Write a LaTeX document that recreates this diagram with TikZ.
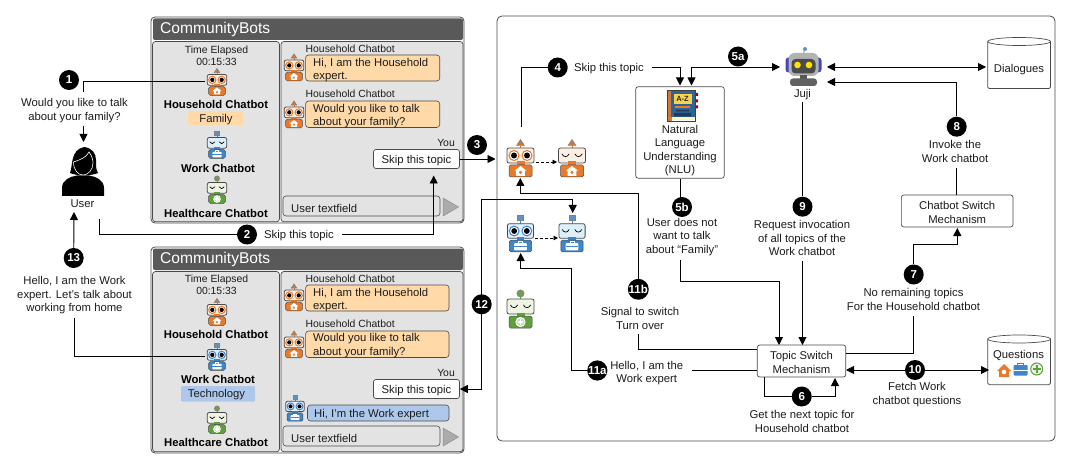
\documentclass[tikz,border=0pt]{standalone}
\usepackage{fontspec}
\setmainfont{Liberation Sans}
\usetikzlibrary{arrows.meta}
\pgfdeclarelayer{top}
\pgfsetlayers{main,top}
\definecolor{hmain}{HTML}{E9792B}
\definecolor{htint}{HTML}{FBEFE4}
\definecolor{hanten}{HTML}{C9793F}
\definecolor{wmain}{HTML}{3F86C8}
\definecolor{wtint}{HTML}{DCEFFB}
\definecolor{wanten}{HTML}{5F93C4}
\definecolor{gmain}{HTML}{5FA03C}
\definecolor{gtint}{HTML}{EEF3E4}
\definecolor{ganten}{HTML}{6F9F4A}
\definecolor{edgec}{HTML}{4A4A4A}
\definecolor{panelc}{HTML}{E3E3E3}
\definecolor{headc}{HTML}{595959}
\definecolor{peach}{HTML}{FFD9A8}
\definecolor{sky}{HTML}{AEC8EC}
\definecolor{ink}{HTML}{1C1C1C}
\tikzset{
  txt/.style={inner sep=0pt,yshift=-1.5pt,text=ink,font=\fontsize{11.3}{13.5}\selectfont,align=center},
  smalltxt/.style={inner sep=0pt,yshift=-1.2pt,text=ink,font=\fontsize{10.4}{11.3}\selectfont,align=center},
  boldtxt/.style={inner sep=0pt,yshift=-0.8pt,text=black,font=\bfseries\fontsize{11.3}{13.5}\selectfont,align=center},
  badge/.style={circle,fill=black,text=white,inner sep=0pt,minimum size=20pt,font=\bfseries\fontsize{11.5}{12}\selectfont},
  titlebar/.style={inner sep=0pt,yshift=-0.8pt,text=white,font=\fontsize{15.6}{18}\selectfont,anchor=west},
  plainline/.style={draw=black,line width=0.9pt},
  arrowline/.style={draw=black,line width=0.9pt,-{Triangle[length=8pt,width=8pt]}},
  bothline/.style={draw=black,line width=0.9pt,{Triangle[length=8pt,width=8pt]}-{Triangle[length=8pt,width=8pt]}},
  dashline/.style={draw=black,line width=0.7pt,densely dashed,-{Triangle[length=4.5pt,width=4.5pt]}},
  procbox/.style={draw=edgec,line width=0.7pt,rounded corners=2.5pt,fill=white,inner sep=0pt},
  frame/.style={draw=edgec,line width=0.8pt,rounded corners=4pt},
  sub/.style={draw=edgec,line width=0.7pt,rounded corners=3pt,fill=panelc},
  bubble/.style={draw=edgec,line width=0.6pt,rounded corners=3pt},
}
% eyes
\newcommand{\eyesopen}[1]{%
  \foreach \ex in {-6.5,6.5}{%
    \draw[draw=#1,fill=white,line width=1pt] (\ex,16.5) circle[radius=5];
    \fill[black] (\ex,16.5) circle[radius=3];}}
\newcommand{\eyesshut}[1]{%
  \foreach \ex in {-6.5,6.5}{%
    \draw[black,line width=0.7pt,line cap=round] (\ex-3.5,15) .. controls (\ex-2,18.5) and (\ex+2,18.5) .. (\ex+3.5,15);}}
% robot frame
\newcommand{\robotframe}[9]{% name,x,top,scale,main,tint,antenna,icon,eyes
  \node[minimum width=34*#4,minimum height=38*#4,inner sep=0pt] (#1) at (#2,#3+19*#4) {};
  \begin{scope}[shift={(#2,#3)},scale=#4]
    \draw[#5,line width=1pt] (0,3) -- (0,9);
    #7
    \draw[edgec,fill=#6,line width=0.8pt,rounded corners=2pt] (-13.5,9) rectangle (13.5,24);
    #9{#5}
    \fill[#5] (-4,22.5) rectangle (4,26.5);
    \draw[edgec,fill=#5,line width=0.5pt,rounded corners=1.5pt] (-11.5,26) rectangle (11.5,38);
    \begin{scope}[shift={(0,32)}]#8{#5}\end{scope}
  \end{scope}}
\newcommand{\anthouse}{\draw[gray,fill=hanten,line width=0.5pt] (-4,6.5) -- (0,0.5) -- (4,6.5) -- cycle;}
\newcommand{\antwork}{\draw[gray,fill=wanten,line width=0.7pt] (-3,0.5) rectangle (3,6);}
\newcommand{\anthealth}{\draw[gray,fill=ganten,line width=0.7pt] (0,3.5) circle[radius=3.5];}
\newcommand{\ichouse}[1]{\fill[white] (-6,-0.3) -- (0,-5) -- (6,-0.3) -- (4.3,-0.3) -- (4.3,4.8) -- (-4.3,4.8) -- (-4.3,-0.3) -- cycle;
  \fill[#1] (0,1.4) circle[radius=1.7];}
\newcommand{\icwork}[1]{\draw[white,line width=0.7pt] (-2,-3) rectangle (2,-4.5);
  \fill[white,rounded corners=0.8pt] (-6.5,-3) rectangle (6.5,4.5);
  \draw[#1,line width=0.5pt] (-6.5,0.3) -- (6.5,0.3);}
\newcommand{\ichealth}[1]{\draw[white,line width=0.9pt,fill=#1!35] (0,0) circle[radius=4.6];
  \draw[white,line width=1.5pt] (-2.8,0) -- (2.8,0) (0,-2.8) -- (0,2.8);}
\newcommand{\housebot}[5]{\robotframe{#1}{#2}{#3}{#4}{hmain}{htint}{\anthouse}{\ichouse}{#5}}
\newcommand{\workbot}[5]{\robotframe{#1}{#2}{#3}{#4}{wmain}{wtint}{\antwork}{\icwork}{#5}}
\newcommand{\healthbot}[5]{\robotframe{#1}{#2}{#3}{#4}{gmain}{gtint}{\anthealth}{\ichealth}{#5}}
% one gui window shell
\newcommand{\windowshell}[3]{% prefix, top, bottom
  \draw[frame,fill=white] (151,#2) rectangle (464,#3);
  \fill[headc,rounded corners=2pt] (153,#2+1.5) rectangle (463,#2+23);
  \node[titlebar] (#1title) at (160,#2+12) {CommunityBots};
  \draw[sub] (152.5,#2+24.5) rectangle (279.5,#3-1.2);
  \draw[sub] (281,#2+24.5) rectangle (463,#3-1.2);}
\begin{document}
\begin{tikzpicture}[x=1pt,y=-1pt]
\useasboundingbox[fill=white] (0,0) rectangle (1069,468);

%% ---------- top window
\windowshell{a}{17}{223}
\node[smalltxt] (atime) at (216.5,54.5) {Time Elapsed\\00:15:33};
\housebot{abot1}{217}{68}{0.72}{\eyesopen}
\node[boldtxt] (aname1) at (216,104) {Household Chatbot};
\fill[peach] (188,111) rectangle (243,125.5);
\node[txt] (afamily) at (216,118.5) {Family};
\workbot{abot2}{217}{131}{0.72}{\eyesshut}
\node[boldtxt] (aname2) at (218,168) {Work Chatbot};
\healthbot{abot3}{217}{176}{0.72}{\eyesshut}
\node[boldtxt] (aname3) at (216,213) {Healthcare Chatbot};

\node[smalltxt,anchor=west] (al1) at (305.5,48) {Household Chatbot};
\housebot{achat1}{294}{53.5}{0.72}{\eyesopen}
\draw[bubble,fill=peach] (305.6,55) rectangle (439.7,81);
\node[txt,anchor=west] (am1) at (313,68.5) {\parbox{125pt}{Hi, I am the Household\\expert.}};
\node[smalltxt,anchor=west] (al2) at (305.5,93) {Household Chatbot};
\housebot{achat2}{294}{100.5}{0.72}{\eyesopen}
\draw[bubble,fill=peach] (305.6,101) rectangle (439.7,127.5);
\node[txt,anchor=west] (am2) at (313,114.5) {\parbox{125pt}{Would you like to talk\\about your family?}};
\node[smalltxt,anchor=east] (ayou) at (455,142) {You};
\node[procbox,minimum width=86pt,minimum height=19pt] (askip) at (416.5,159) {};
\node[txt] (askipt) at (416.5,159) {Skip this topic};
\draw[bubble,fill=panelc] (283,196) rectangle (440,216);
\node[txt,anchor=west] (afield) at (291,206.5) {User textfield};
\draw[fill=black!33,draw=black!45,line width=0.5pt] (443,198) -- (458.5,207) -- (443,216) -- cycle;

%% ---------- bottom window
\windowshell{b}{247}{453}
\node[smalltxt] (btime) at (216.5,283.5) {Time Elapsed\\00:15:33};
\housebot{bbot1}{217}{298}{0.72}{\eyesopen}
\node[boldtxt] (bname1) at (216,333.5) {Household Chatbot};
\workbot{bbot2}{217}{343}{0.72}{\eyesopen}
\node[boldtxt] (bname2) at (218,379) {Work Chatbot};
\fill[sky,rounded corners=1pt] (181,386) rectangle (255,401.5);
\node[txt] (btech) at (216.5,393.5) {Technology};
\healthbot{bbot3}{217}{406}{0.72}{\eyesshut}
\node[boldtxt] (bname3) at (216,442) {Healthcare Chatbot};

\node[smalltxt,anchor=west] (bl1) at (305.5,278) {Household Chatbot};
\housebot{bchat1}{294}{283.5}{0.72}{\eyesopen}
\draw[bubble,fill=peach] (305.6,285) rectangle (449,311);
\node[txt,anchor=west] (bm1) at (313,298.5) {\parbox{125pt}{Hi, I am the Household\\expert.}};
\node[smalltxt,anchor=west] (bl2) at (305.5,323) {Household Chatbot};
\housebot{bchat2}{294}{330.5}{0.72}{\eyesopen}
\draw[bubble,fill=peach] (305.6,331) rectangle (449,357.5);
\node[txt,anchor=west] (bm2) at (313,344) {\parbox{125pt}{Would you like to talk\\about your family?}};
\node[smalltxt,anchor=east] (byou) at (455,371.5) {You};
\node[procbox,minimum width=86pt,minimum height=19pt] (bskip) at (416.5,389) {};
\node[txt] (bskipt) at (416.5,389) {Skip this topic};
\workbot{bchat3}{295}{395}{0.69}{\eyesopen}
\draw[bubble,fill=sky] (307.5,405) rectangle (449,421);
\node[txt,anchor=west] (bm3) at (314,413) {Hi, I’m the Work expert};
\draw[bubble,fill=panelc] (283,426) rectangle (440,446);
\node[txt,anchor=west] (bfield) at (291,436.5) {User textfield};
\draw[fill=black!33,draw=black!45,line width=0.5pt] (443,428) -- (458.5,437) -- (443,446) -- cycle;

%% ---------- user side
\node[minimum width=42pt,minimum height=49pt,inner sep=0pt] (user) at (83,171.5) {};
\fill[black] (62,196) -- (62,188) .. controls (62,180) and (70,176.5) .. (77,175.5) -- (89,175.5) .. controls (96,176.5) and (104,180) .. (104,188) -- (104,196) -- cycle;
\fill[black] (70,173) .. controls (73,166) and (70,150) .. (84,147) .. controls (92,148) and (96,153) .. (96,160) .. controls (96,166) and (96,170) .. (98,173) .. controls (92,176) and (76,176) .. (70,173) -- cycle;
\draw[white,line width=0.6pt] (73.5,162) .. controls (80,160) and (87,157) .. (89,152) .. controls (92,156) and (93,160) .. (93,163) .. controls (93,170) and (88,175) .. (83,175) .. controls (78,175) and (73.5,170) .. (73.5,162) -- cycle;
\node[txt] (userlab) at (82.5,202.5) {User};
\node[txt] (q1) at (74.5,109) {Would you like to talk\\about your family?};
\node[txt] (q13) at (74.5,294) {Hello, I am the Work\\expert. Let’s talk about\\working from home};
\node[txt] (t2) at (299,234) {Skip this topic};

%% ---------- main frame
\draw[frame,rounded corners=5pt,fill=white] (497,16) rectangle (1055,441);
\housebot{hon}{520.5}{139}{1}{\eyesopen}
\housebot{hoff}{572}{139}{1}{\eyesshut}
\workbot{won}{520.5}{215}{0.97}{\eyesopen}
\workbot{woff}{572}{215}{0.97}{\eyesshut}
\healthbot{gon}{520.5}{290}{1}{\eyesshut}

% NLU
\node[procbox,minimum width=88.5pt,minimum height=91.5pt] (nlu) at (680,132.5) {};
\begin{scope}
  \fill[hanten] (667,91) rectangle (672,118);
  \fill[red!65!black] (695,93) rectangle (698,96) (695,99.5) rectangle (698,102.5) (695,105.5) rectangle (698,108.5);
  \fill[wmain!75!black] (670.5,90.7) rectangle (695,117);
  \fill[yellow!55!orange!70!white] (673.5,94) rectangle (691.5,104);
  \fill[black!10!yellow!25!white] (670.5,117) rectangle (695,120.5);
  \fill[hmain!60!brown] (667,117) rectangle (672,121);
  \draw[black!75,line width=0.5pt] (667,90.7) rectangle (695,120.8);
  \node[inner sep=0pt,text=black!85,font=\bfseries\fontsize{7.5}{8}\selectfont] (azlab) at (682.5,99) {A-Z};
  \fill[hmain] (675,106) rectangle (690,108);
  \fill[wmain!45!black] (676,110) rectangle (689,111.5) (674,113) rectangle (691,116.5);
\end{scope}
\node[txt] (nlut) at (680,149) {Natural\\Language\\Understanding\\(NLU)};

% Juji
\node[minimum width=36pt,minimum height=38pt,inner sep=0pt] (juji) at (803,66.5) {};
\draw[wanten,line width=0.8pt] (804.5,49) -- (803.5,54);
\fill[wanten] (805,49) circle[radius=2];
\fill[blue!45!gray,rounded corners=3pt] (785.5,57.5) rectangle (792,72.5);
\fill[blue!45!gray,rounded corners=3pt] (815,57.5) rectangle (821.5,72.5);
\fill[black!30,rounded corners=6pt] (788.5,53) rectangle (818.5,76);
\fill[black!70,rounded corners=4pt] (791.5,59) rectangle (815.5,73.5);
\fill[yellow!85!orange] (797.5,65) circle[radius=3.3] (809,65) circle[radius=3.3];
\fill[black!65] (800,75) rectangle (807,79);
\fill[black!62,rounded corners=3pt] (790,78.5) rectangle (817,86);
\node[txt] (jujit) at (802.5,93) {Juji};

% Cylinders
\node[inner sep=0pt,minimum width=63pt,minimum height=51pt] (dial) at (1019,63) {};
\draw[edgec,fill=white,line width=0.7pt,rounded corners=1.5pt] (987.7,41.5) -- (987.7,88.5) -- (1050.5,88.5) -- (1050.5,41.5);
\draw[edgec,fill=white,line width=0.7pt] (1019.1,41.5) ellipse[x radius=31.4,y radius=4];
\node[txt] (dialt) at (1019,68) {Dialogues};
\node[inner sep=0pt,minimum width=63pt,minimum height=50pt] (ques) at (1019,360) {};
\draw[edgec,fill=white,line width=0.7pt,rounded corners=1.5pt] (987.7,339) -- (987.7,384.7) -- (1050.5,384.7) -- (1050.5,339);
\draw[edgec,fill=white,line width=0.7pt] (1019.1,339) ellipse[x radius=31.4,y radius=4];
\node[txt] (quest) at (1018.5,354) {Questions};
\begin{scope}[shift={(1004,371)}]
  \fill[hmain] (-7,0) -- (0,-7) -- (7,0) -- (5,0) -- (5,6) -- (-5,6) -- (-5,0) -- cycle;
  \fill[white] (0,1) circle[radius=2.3];
\end{scope}
\begin{scope}[shift={(1020.5,369.5)}]
  \draw[wmain,line width=1pt] (-3,-4.5) rectangle (3,-6);
  \fill[wmain,rounded corners=1pt] (-7,-4.5) rectangle (7,6);
  \draw[white,line width=0.6pt] (-7,0.5) -- (7,0.5);
\end{scope}
\begin{scope}[shift={(1036.7,369)}]
  \draw[gmain,fill=gtint,line width=1pt] (0,0) circle[radius=6];
  \draw[gmain,line width=2.2pt] (-3.8,0) -- (3.8,0) (0,-3.8) -- (0,3.8);
\end{scope}

% Mechanism boxes
\node[procbox,minimum width=88.5pt,minimum height=32pt] (topic) at (801.5,361) {};
\node[txt] (topict) at (801.5,361) {Topic Switch\\Mechanism};
\node[procbox,minimum width=111.7pt,minimum height=32pt] (cswitch) at (957.2,211) {};
\node[txt] (cswitcht) at (957.2,211) {Chatbot Switch\\Mechanism};

% labels
\node[txt] (t4) at (609,67.5) {Skip this topic};
\node[txt] (t5b) at (682,235.5) {User does not\\want to talk\\about “Family”};
\node[txt] (t9) at (802,236.5) {Request invocation\\of all topics of the\\Work chatbot};
\node[txt] (t8) at (955,150) {Invoke the\\Work chatbot};
\node[txt] (t7) at (913.5,298) {No remaining topics\\For the Household chatbot};
\node[txt] (t10) at (917,393) {Fetch Work\\chatbot questions};
\node[txt] (t6) at (802,420) {Get the next topic for\\Household chatbot};
\node[txt] (t11a) at (646.7,371.5) {Hello, I am the\\Work expert};
\node[txt] (t11b) at (640,317) {Signal to switch\\Turn over};

%% ---------- connector ends
\coordinate (c1s) at (83,92);
\coordinate (q1a) at (83.5,126);
\coordinate (q1b) at (83.5,142);
\coordinate (c2s) at (99.5,219);
\coordinate (c2m) at (342,234.5);
\coordinate (c2e) at (433.7,175.5);
\coordinate (u13) at (74,212);
\coordinate (c13) at (74,318);
\coordinate (c3e) at (495.5,159);
\coordinate (c4s) at (521.7,127);
\coordinate (c4m) at (652,67);
\coordinate (nluA) at (680,85.5);
\coordinate (nluB) at (691.5,85.5);
\coordinate (jujiW) at (780,67);
\coordinate (jujiE1) at (827,67);
\coordinate (jujiE2) at (827,82);
\coordinate (dialW) at (986,67);
\coordinate (c5t) at (680.7,198);
\coordinate (c5b) at (680.7,179);
\coordinate (c5s) at (680.7,260);
\coordinate (topicA) at (779,345);
\coordinate (c5k) at (779,281);
\coordinate (c9s) at (802.5,102.5);
\coordinate (c9m) at (802.5,261);
\coordinate (topicB) at (802.5,345);
\coordinate (c8m) at (956.7,168);
\coordinate (c8e) at (956.7,195);
\coordinate (switchS) at (957.3,228);
\coordinate (c7k) at (957.3,244.3);
\coordinate (c7m) at (913.7,316);
\coordinate (topicE1) at (846,353);
\coordinate (topicE2) at (846,370);
\coordinate (quesW) at (989,370);
\coordinate (c6s) at (764,377);
\coordinate (c6e) at (835,378);
\coordinate (c11am) at (692,370);
\coordinate (topicW1) at (757,370);
\coordinate (won1) at (520.7,253);
\coordinate (c11ak) at (571.7,268.7);
\coordinate (c11bm) at (638.3,334);
\coordinate (topicW2) at (757,349.3);
\coordinate (hon1) at (520.3,178);
\coordinate (c11bk) at (600,193.3);
\coordinate (woffN) at (572.7,213);
\coordinate (c12k) at (481.7,199);
\coordinate (hdA) at (535.5,162);
\coordinate (hdB) at (557,162);
\coordinate (wdA) at (535,238);
\coordinate (wdB) at (558,238);

%% ---------- badges
\begin{pgfonlayer}{top}
\node[badge] (b1) at (69,80) {1};
\node[badge] (b2) at (247,234.5) {2};
\node[badge] (b3) at (477,145) {3};
\node[badge] (b4) at (557.7,67.5) {4};
\node[badge] (b5a) at (738,56.5) {5a};
\node[badge] (b5b) at (682,207) {5b};
\node[badge] (b6) at (801.7,396.5) {6};
\node[badge] (b7) at (913.7,274.5) {7};
\node[badge] (b8) at (956.7,126.7) {8};
\node[badge] (b9) at (802.5,206.7) {9};
\node[badge] (b10) at (915,370) {10};
\node[badge] (b11a) at (597.3,370.5) {11a};
\node[badge] (b11b) at (638.3,289.3) {11b};
\node[badge] (b12) at (481.7,304.3) {12};
\node[badge] (b13) at (73.7,258) {13};
\end{pgfonlayer}

%% ---------- connectors
\draw[plainline] (c1s) |- (abot1.west);
\draw[arrowline] (q1a) -- (q1b);
\draw[plainline] (c2s) |- (b2);
\draw[arrowline] (c2m) -| (c2e);
\draw[arrowline] (b13) -- (u13);
\draw[plainline] (c13) |- (bbot2.west);
\draw[arrowline] (askip.east) -- (c3e);
\draw[plainline] (c4s) |- (b4);
\draw[arrowline] (c4m) -| (nluA);
\draw[bothline] (nluB) |- (jujiW);
\draw[bothline] (jujiE1) -- (dialW);
\draw[plainline] (c5b) -- (c5t);
\draw[arrowline] (c5s) |- (c5k) -- (topicA);
\draw[plainline] (c9s) -- (b9);
\draw[arrowline] (c9m) -- (topicB);
\draw[arrowline] (b8) |- (jujiE2);
\draw[plainline] (c8m) -- (c8e);
\draw[arrowline] (b7) |- (c7k) -- (switchS);
\draw[plainline] (c7m) |- (topicE1);
\draw[bothline] (topicE2) -- (quesW);
\draw[plainline] (c6s) |- (b6);
\draw[arrowline] (b6) -| (c6e);
\draw[plainline] (c11am) -- (topicW1);
\draw[arrowline] (b11a) -| (c11ak) -| (won1);
\draw[arrowline] (b11b) |- (c11bk) -| (hon1);
\draw[plainline] (c11bm) |- (topicW2);
\draw[bothline] (woffN) |- (c12k) |- (bskip.east);
\draw[dashline] (hdA) -- (hdB);
\draw[dashline] (wdA) -- (wdB);
\end{tikzpicture}
\end{document}
